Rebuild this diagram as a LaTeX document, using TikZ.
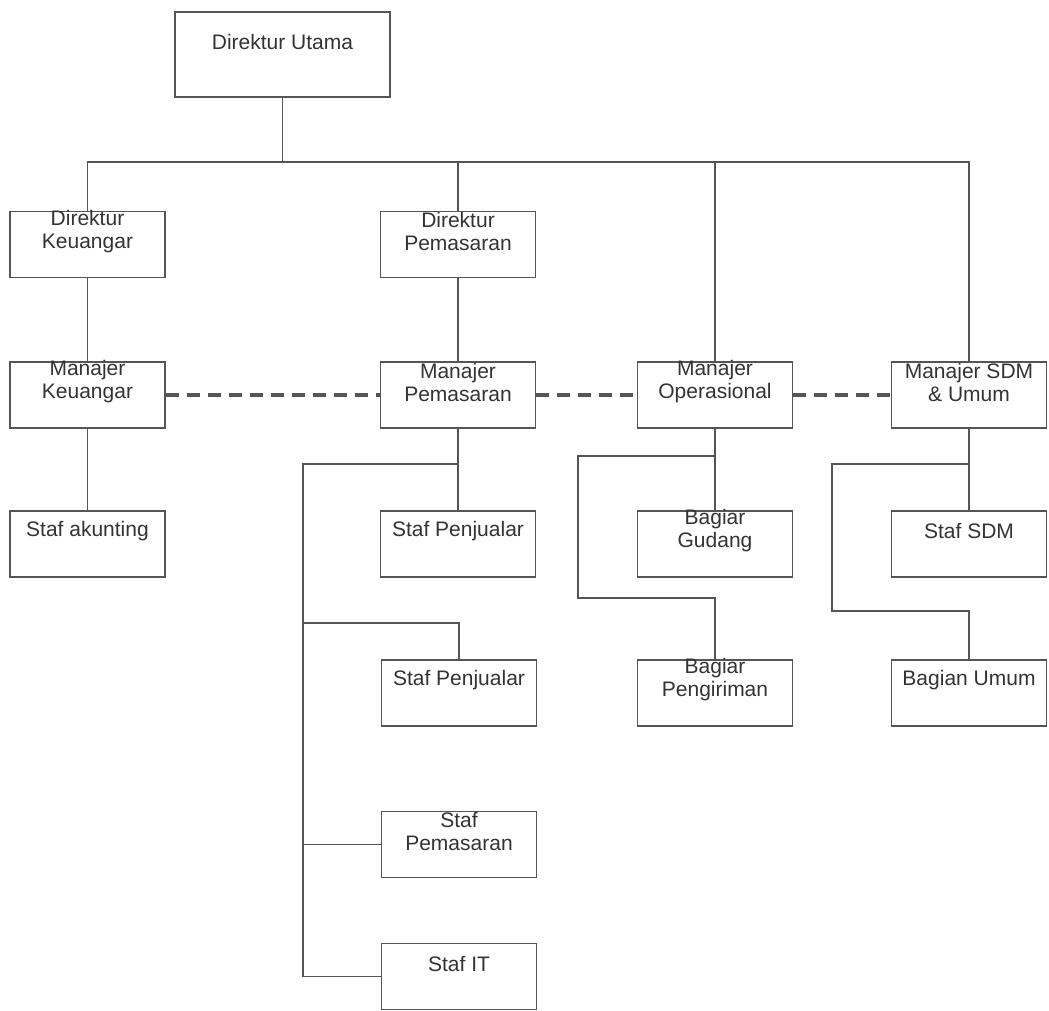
\documentclass[tikz,border=0pt]{standalone}
\usepackage{fontspec}
\setmainfont{Liberation Sans}
\definecolor{ln}{HTML}{555555}
\definecolor{tx}{HTML}{333333}
\begin{document}
\begin{tikzpicture}[x=1pt,y=-1pt,
  box/.style={draw=ln, line width=1.2pt, minimum width=155pt, minimum height=66pt, inner sep=0pt,
    label={[font=\fontsize{21}{23}\selectfont, text=tx, align=center, yshift=13pt, inner sep=0pt]center:{#1}}},
  conn/.style={draw=ln, line width=1.2pt},
  dashconn/.style={draw=ln, line width=3.2pt, dash pattern=on 13pt off 8pt}]
\useasboundingbox (0,0) rectangle (1049,1011);
% nodes
\node[box={Direktur Utama}, minimum width=215pt, minimum height=85pt] (du) at (282.5,54.5) {};
\node[box={Direktur\\Keuangar}] (dk) at (87.5,244.5) {};
\node[box={Direktur\\Pemasaran}] (dp) at (458,244.5) {};
\node[box={Manajer\\Keuangar}] (mk) at (87.5,395) {};
\node[box={Manajer\\Pemasaran}] (mp) at (458,395) {};
\node[box={Manajer\\Operasional}] (mo) at (715,395) {};
\node[box={Manajer SDM\\\& Umum}] (ms) at (969,395) {};
\node[box={Staf akunting}] (sa) at (87.5,544) {};
\node[box={Staf Penjualar}] (sp1) at (458,544) {};
\node[box={Bagiar\\Gudang}] (bg) at (715,544) {};
\node[box={Staf SDM}] (ssdm) at (969,544) {};
\node[box={Staf Penjualar}] (sp2) at (459,693) {};
\node[box={Bagiar\\Pengiriman}] (bp) at (715,693) {};
\node[box={Bagian Umum}] (bu) at (969,693) {};
\node[box={Staf\\Pemasaran}] (spm) at (459,844.5) {};
\node[box={Staf IT}] (sit) at (459,976.5) {};
% bus
\coordinate (bus) at (0,162);
\draw[conn] (du.south) -- (du.south |- bus);
\draw[conn] (dk.north) -- (dk.north |- bus) -- (ms.north |- bus) -- (ms.north);
\draw[conn] (dp.north) -- (dp.north |- bus);
\draw[conn] (mo.north) -- (mo.north |- bus);
% verticals
\draw[conn] (dk.south) -- (mk.north);
\draw[conn] (mk.south) -- (sa.north);
\draw[conn] (dp.south) -- (mp.north);
\draw[conn] (mp.south) -- (sp1.north);
\draw[conn] (mo.south) -- (bg.north);
\draw[conn] (ms.south) -- (ssdm.north);
% pemasaran tree
\coordinate (pL) at (303,464);
\coordinate (pB) at (303,623);
\draw[conn] (mp.south |- pL) -- (pL) -- (pL |- sit.west) -- (sit.west);
\draw[conn] (pL |- spm.west) -- (spm.west);
\draw[conn] (pB) -- (sp2.north |- pB) -- (sp2.north);
% operasional tree
\coordinate (oL) at (578,456);
\coordinate (oB) at (578,598);
\draw[conn] (mo.south |- oL) -- (oL) -- (oB) -- (bp.north |- oB) -- (bp.north);
% sdm tree
\coordinate (sL) at (832,464);
\coordinate (sB) at (832,611);
\draw[conn] (ms.south |- sL) -- (sL) -- (sB) -- (bu.north |- sB) -- (bu.north);
% dashed links
\draw[dashconn] (mk.east) -- (mp.west);
\draw[dashconn] (mp.east) -- (mo.west);
\draw[dashconn] (mo.east) -- (ms.west);
\end{tikzpicture}
\end{document}
